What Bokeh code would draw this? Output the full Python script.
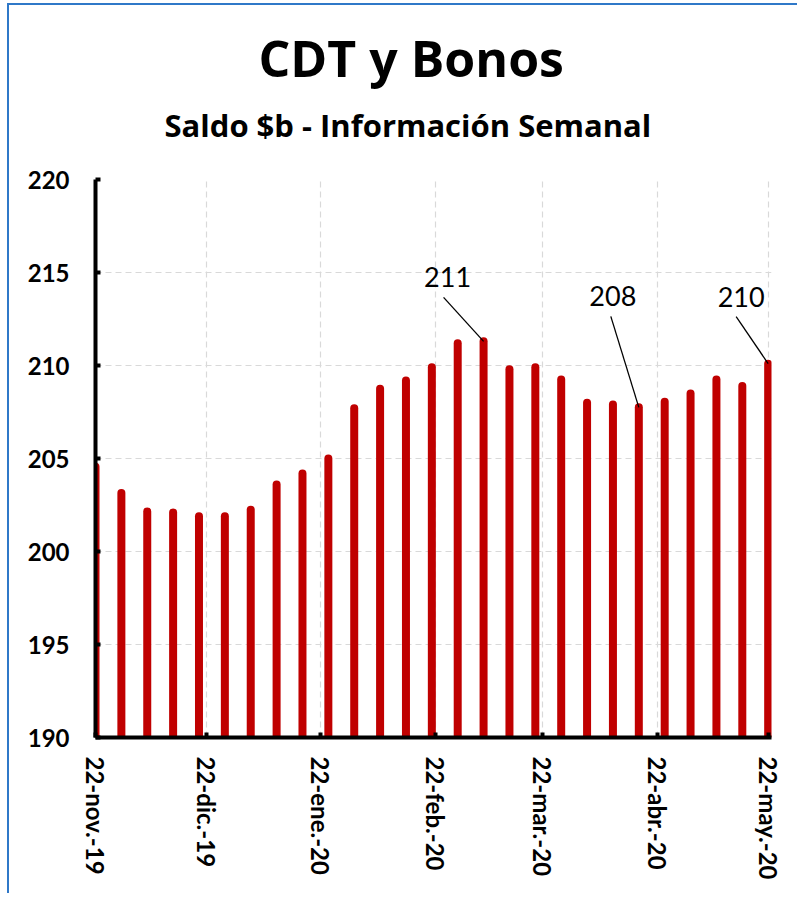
import datetime as dt
from bokeh.plotting import figure
from bokeh.models import FixedTicker, Range1d, Title
from bokeh.core.properties import value
from bokeh.embed import file_html
from bokeh.resources import INLINE

# ---------------- data ----------------
title_text = "CDT y Bonos"
subtitle_text = "Saldo $b -  Información Semanal"

week_dates = [
    "2019-11-22", "2019-11-29", "2019-12-06", "2019-12-13", "2019-12-20", "2019-12-27",
    "2020-01-03", "2020-01-10", "2020-01-17", "2020-01-24", "2020-01-31",
    "2020-02-07", "2020-02-14", "2020-02-21", "2020-02-28",
    "2020-03-06", "2020-03-13", "2020-03-20", "2020-03-27",
    "2020-04-03", "2020-04-10", "2020-04-17", "2020-04-24",
    "2020-05-01", "2020-05-08", "2020-05-15", "2020-05-22",
]
saldo = [204.55, 203.15, 202.15, 202.1, 201.9, 201.9, 202.25, 203.6, 204.2, 205.0,
         207.7, 208.75, 209.2, 209.9, 211.2, 211.3, 209.8, 209.9, 209.25, 208.0,
         207.9, 207.75, 208.05, 208.5, 209.25, 208.9, 210.1]

tick_dates = ["2019-11-22", "2019-12-22", "2020-01-22", "2020-02-22",
              "2020-03-22", "2020-04-22", "2020-05-22"]
tick_labels = ["22-nov.-19", "22-dic.-19", "22-ene.-20", "22-feb.-20",
               "22-mar.-20", "22-abr.-20", "22-may.-20"]
y_ticks = [190, 195, 200, 205, 210, 215, 220]

label_idx = [15, 21, 26]           # bars carrying a data label

# label placement (pixels relative to the bar top)
text_dx_px = [-36, -26, -27]
text_dy_px = [64, 111, 67]
lead_dx_px = [-40, -28, -32]
lead_dy_px = [44, 91, 47]

# ---------------- geometry ----------------
W, H = 790, 890
MB_LEFT, MB_TOP, MB_RIGHT, MB_BOTTOM = 86, 174, 28, 158
FRAME_W = W - MB_LEFT - MB_RIGHT
FRAME_H = H - MB_TOP - MB_BOTTOM
Y0, Y1 = 190, 220


def ms(s):
    d = dt.datetime.strptime(s, "%Y-%m-%d")
    return (d - dt.datetime(1970, 1, 1)).total_seconds() * 1000.0


DAY = 86400000.0
x_start = ms(week_dates[0])
x_end = x_start + 182.9 * DAY
ms_per_px = (x_end - x_start) / FRAME_W
val_per_px = (Y1 - Y0) / FRAME_H

xs = [ms(d) for d in week_dates]

p = figure(width=W, height=H, x_axis_type="datetime",
           x_range=Range1d(x_start, x_end), y_range=Range1d(Y0, Y1),
           output_backend="svg", toolbar_location=None, title=None,
           min_border_left=MB_LEFT, min_border_top=MB_TOP,
           min_border_right=MB_RIGHT, min_border_bottom=MB_BOTTOM)
p.styles = {"margin-left": "9px", "margin-top": "5px",
            "box-shadow": "-2px -2px 0 0 #2F78C8"}
p.outline_line_color = None
p.background_fill_color = "white"
p.border_fill_color = "white"

# bars (thin rounded columns)
p.segment(x0=xs, y0=[Y0 - 1] * len(xs), x1=xs, y1=saldo,
          line_color="#C00000", line_width=8, line_cap="round")

# data labels with leader lines
lx = [xs[i] for i in label_idx]
ly = [saldo[i] for i in label_idx]
p.segment(x0=lx, y0=ly,
          x1=[x + dx * ms_per_px for x, dx in zip(lx, lead_dx_px)],
          y1=[y + dy * val_per_px for y, dy in zip(ly, lead_dy_px)],
          line_color="black", line_width=1.3)
p.text(x=[x + dx * ms_per_px for x, dx in zip(lx, text_dx_px)],
       y=[y + dy * val_per_px for y, dy in zip(ly, text_dy_px)],
       text=[f"{round(v)}" for v in ly],
       text_font=value("Lato"), text_font_size="27px",
       text_align="center", text_baseline="alphabetic", text_color="black")

# axes
xa = p.xaxis[0]
xa.ticker = FixedTicker(ticks=[ms(d) for d in tick_dates])
xa.major_label_overrides = {ms(d): lab for d, lab in zip(tick_dates, tick_labels)}
xa.major_label_orientation = "vertical"
xa.minor_tick_line_color = None
ya = p.yaxis[0]
ya.ticker = FixedTicker(ticks=y_ticks)
ya.minor_tick_line_color = None
for ax in (xa, ya):
    ax.axis_line_width = 4
    ax.axis_line_color = "black"
    ax.major_tick_in = 5
    ax.major_tick_out = 0
    ax.major_tick_line_width = 4
    ax.major_tick_line_color = "black"
    ax.major_label_text_font = "Lato"
    ax.major_label_text_font_style = "bold"
    ax.major_label_text_font_size = "24px"
    ax.major_label_text_color = "black"
xa.major_label_standoff = 19
ya.major_label_standoff = 26

for g in (p.xgrid[0], p.ygrid[0]):
    g.grid_line_color = "#D9D9D9"
    g.grid_line_dash = "6 4"
    g.grid_line_width = 1.2

# titles (subtitle first = closest to the frame)
p.add_layout(Title(text=subtitle_text, align="left", offset=69,
                   text_font="Open Sans", text_font_style="bold",
                   text_font_size="31px", text_color="black",
                   standoff=68), "above")
p.add_layout(Title(text=title_text, align="left", offset=163,
                   text_font="Open Sans", text_font_style="bold",
                   text_font_size="50px", text_color="black",
                   standoff=-49), "above")

open("out.html", "w").write(file_html(p, INLINE))
